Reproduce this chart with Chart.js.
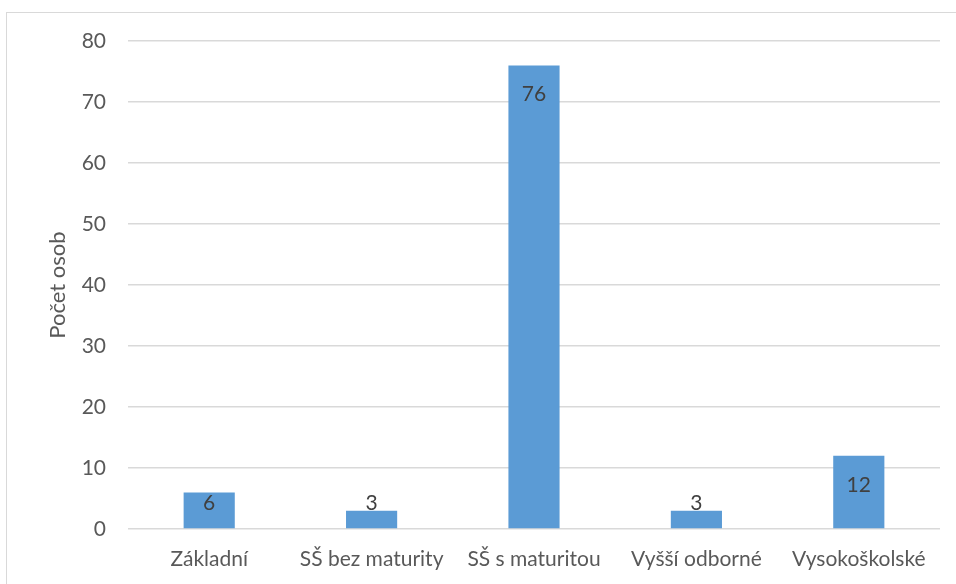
<!DOCTYPE html>
<html>
<head>
<meta charset="utf-8">
<script src="https://cdn.jsdelivr.net/npm/chart.js@4/dist/chart.umd.min.js"></script>
<style>
  html, body { margin: 0; padding: 0; background: #fff; }
  #wrap { position: relative; width: 956px; height: 584px; }
</style>
</head>
<body>
<div id="wrap"><canvas id="chart" width="956" height="584"></canvas></div>
<script>
const categories = ["Základní", "SŠ bez maturity", "SŠ s maturitou", "Vyšší odborné", "Vysokoškolské"];
const counts = [6, 3, 76, 3, 12];
const yTicks = [0, 10, 20, 30, 40, 50, 60, 70, 80];

const FONT = "Lato, sans-serif";
const textColor = "#595959";

// thin frame around the whole chart
const framePlugin = {
  id: "frame",
  beforeDraw(chart) {
    const ctx = chart.ctx;
    ctx.save();
    ctx.strokeStyle = "#d9d9d9";
    ctx.lineWidth = 1;
    ctx.strokeRect(6.5, 12.5, 1000, 1000);
    ctx.restore();
  },
};

// value labels just inside the top of each bar
const valueLabels = {
  id: "valueLabels",
  afterDatasetsDraw(chart) {
    const ctx = chart.ctx;
    const meta = chart.getDatasetMeta(0);
    const base = chart.scales.y.getPixelForValue(0);
    ctx.save();
    ctx.font = "21px " + FONT;
    ctx.fillStyle = "#404040";
    ctx.textAlign = "center";
    ctx.textBaseline = "middle";
    meta.data.forEach((bar, i) => {
      const y = Math.min(bar.y + 29, base - 26);
      ctx.fillText(String(counts[i]), bar.x, y);
    });
    ctx.restore();
  },
};

new Chart(document.getElementById("chart"), {
  type: "bar",
  data: {
    labels: categories,
    datasets: [{
      data: counts,
      backgroundColor: "#5b9bd5",
      borderWidth: 0,
      categoryPercentage: 1,
      barPercentage: 0.315,
    }],
  },
  plugins: [framePlugin, valueLabels],
  options: {
    responsive: false,
    animation: false,
    layout: { padding: { left: 38, right: 16, top: 41, bottom: 0 } },
    plugins: { legend: { display: false }, tooltip: { enabled: false } },
    scales: {
      x: {
        grid: { display: false, drawTicks: false },
        border: { display: false },
        ticks: { color: textColor, font: { family: FONT, size: 21 }, padding: 18, maxRotation: 0, autoSkip: false },
        afterFit(scale) { scale.height = 55; },
      },
      y: {
        min: 0,
        max: 80,
        afterBuildTicks(scale) { scale.ticks = yTicks.map(v => ({ value: v })); },
        grid: { color: "#d9d9d9", lineWidth: 1.5, drawTicks: false },
        border: { display: false },
        ticks: { color: textColor, font: { family: FONT, size: 21 }, padding: 22 },
        title: {
          display: true,
          text: "Počet osob",
          color: textColor,
          font: { family: FONT, size: 22 },
          padding: { top: 7, bottom: 0 },
        },
        afterFit(scale) { scale.width = 90; },
      },
    },
  },
});
</script>
</body>
</html>
